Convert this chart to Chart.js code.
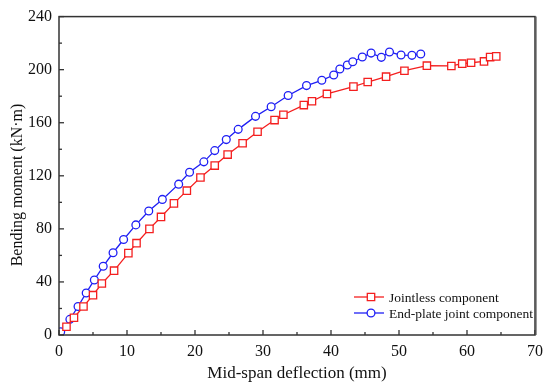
<!DOCTYPE html>
<html>
<head>
<meta charset="utf-8">
<script src="https://cdn.jsdelivr.net/npm/chart.js@4"></script>
<style>
  html, body { margin: 0; padding: 0; background: #fff; }
  #wrap { width: 550px; height: 384px; }
</style>
</head>
<body>
<div id="wrap"><canvas id="c"></canvas></div>
<script>
// --- data ---
const jointlessX = [1.1, 2.2, 3.6, 5.0, 6.3, 8.1, 10.2, 11.4, 13.3, 15.0, 16.9, 18.8, 20.8, 22.9, 24.8, 27.0, 29.2, 31.7, 33.0, 36.0, 37.2, 39.4, 43.3, 45.4, 48.1, 50.8, 54.1, 57.7, 59.3, 60.6, 62.5, 63.4, 64.3];
const jointlessY = [6.2, 13, 21.5, 30, 38.8, 48.5, 61.7, 69.2, 80, 89, 99.2, 108.8, 118.7, 127.7, 136, 144.5, 153.2, 162, 166, 173.3, 176.2, 181.7, 187.2, 190.7, 194.7, 199.2, 203, 202.8, 204.5, 205.2, 206.2, 209.5, 210];

const endPlateX = [0.25, 1.6, 2.8, 4.0, 5.2, 6.5, 7.95, 9.5, 11.3, 13.2, 15.2, 17.6, 19.2, 21.3, 22.9, 24.6, 26.35, 28.9, 31.2, 33.7, 36.4, 38.65, 40.4, 41.3, 42.4, 43.2, 44.6, 45.9, 47.4, 48.6, 50.3, 51.9, 53.2];
const endPlateY = [2.5, 11.8, 21.5, 31.7, 41.5, 51.8, 62, 72, 83, 93.5, 102.2, 113.7, 122.7, 130.5, 139, 147.3, 155, 164.8, 172, 180.5, 188, 192, 196, 200.5, 203.5, 206, 209.5, 212.5, 209.3, 213.3, 211, 210.8, 211.8];

const seriesNames = ['Jointless component', 'End-plate joint component'];
const xMajor = [0, 10, 20, 30, 40, 50, 60, 70];
const yMajor = [0, 40, 80, 120, 160, 200, 240];
const yTitle = 'Bending moment (kN·m)';

const toPoints = (xs, ys) => xs.map((x, i) => ({ x: x, y: ys[i] }));

const FONT = '"Liberation Serif", "Times New Roman", serif';
const RED = '#f41f1f';
const BLUE = '#1f1ff4';

// inward ticks, frame, y title and legend drawn on top
const decor = {
  id: 'decor',
  afterDraw(chart) {
    const { ctx, chartArea: a, scales } = chart;
    const xs = scales.x, ys = scales.y;
    ctx.save();
    ctx.strokeStyle = '#333';
    ctx.lineWidth = 1.3;
    // minor + major ticks
    for (let v = 0; v <= 70; v += 5) {
      const px = xs.getPixelForValue(v);
      const len = v % 10 === 0 ? 5 : 3;
      ctx.beginPath(); ctx.moveTo(px, a.bottom); ctx.lineTo(px, a.bottom - len); ctx.stroke();
    }
    for (let v = 0; v <= 240; v += 20) {
      const py = ys.getPixelForValue(v);
      const len = v % 40 === 0 ? 5 : 3;
      ctx.beginPath(); ctx.moveTo(a.left, py); ctx.lineTo(a.left + len, py); ctx.stroke();
    }
    // frame
    ctx.lineWidth = 1.5;
    ctx.strokeRect(a.left, a.top, a.right - a.left, a.bottom - a.top);
    ctx.lineWidth = 1.2;
    ctx.strokeStyle = '#555';
    ctx.beginPath(); ctx.moveTo(a.right + 1, a.top); ctx.lineTo(a.right + 1, a.bottom); ctx.stroke();

    // y title (rotated)
    ctx.save();
    ctx.translate(17.5, 185);
    ctx.rotate(-Math.PI / 2);
    ctx.font = '16px ' + FONT;
    ctx.fillStyle = '#111';
    ctx.textAlign = 'center';
    ctx.textBaseline = 'middle';
    ctx.fillText(yTitle, 0, 0);
    ctx.restore();

    // legend
    ctx.font = '13.5px ' + FONT;
    ctx.textBaseline = 'middle';
    chart.data.datasets.forEach((ds, i) => {
      const y = 297 + i * 16;
      const x0 = 354, x1 = 384, xm = 371;
      ctx.strokeStyle = ds.borderColor;
      ctx.lineWidth = 1.3;
      ctx.beginPath(); ctx.moveTo(x0, y); ctx.lineTo(x1, y); ctx.stroke();
      ctx.fillStyle = '#fff';
      ctx.beginPath();
      if (ds.pointStyle === 'rect') {
        ctx.rect(xm - 3.7, y - 3.7, 7.4, 7.4);
      } else {
        ctx.arc(xm, y, 3.9, 0, Math.PI * 2);
      }
      ctx.fill(); ctx.stroke();
      ctx.fillStyle = '#111';
      ctx.fillText(ds.label, 389, y + 1);
    });
    ctx.restore();
  }
};

new Chart(document.getElementById('c'), {
  type: 'scatter',
  data: {
    datasets: [
      {
        label: seriesNames[0],
        data: toPoints(jointlessX, jointlessY),
        showLine: true,
        borderColor: RED,
        borderWidth: 1.3,
        pointStyle: 'rect',
        pointRadius: 5.2,
        pointBorderWidth: 1.3,
        pointBackgroundColor: '#fff',
        pointBorderColor: RED
      },
      {
        label: seriesNames[1],
        data: toPoints(endPlateX, endPlateY),
        showLine: true,
        borderColor: BLUE,
        borderWidth: 1.3,
        pointStyle: 'circle',
        pointRadius: 3.9,
        pointBorderWidth: 1.3,
        pointBackgroundColor: '#fff',
        pointBorderColor: BLUE
      }
    ]
  },
  options: {
    responsive: true,
    maintainAspectRatio: false,
    animation: false,
    layout: { padding: { left: 0, right: 13, top: 15, bottom: 0 } },
    plugins: {
      legend: { display: false },
      tooltip: { enabled: false }
    },
    scales: {
      x: {
        type: 'linear',
        min: 0, max: 70,
        afterBuildTicks(s) { s.ticks = xMajor.map(v => ({ value: v })); },
        afterFit(s) { s.height = 49; },
        grid: { display: false, drawTicks: false },
        border: { display: false },
        ticks: { color: '#111', padding: 7, font: { family: FONT, size: 16 } },
        title: { display: true, text: 'Mid-span deflection (mm)', color: '#111', padding: { top: 1, bottom: 0 }, font: { family: FONT, size: 17 } }
      },
      y: {
        type: 'linear',
        min: 0, max: 240,
        afterBuildTicks(s) { s.ticks = yMajor.map(v => ({ value: v })); },
        afterFit(s) { s.width = 59; },
        grid: { display: false, drawTicks: false },
        border: { display: false },
        ticks: { color: '#111', padding: 7, font: { family: FONT, size: 16 } },
        title: { display: false }
      }
    }
  },
  plugins: [decor]
});
</script>
</body>
</html>
